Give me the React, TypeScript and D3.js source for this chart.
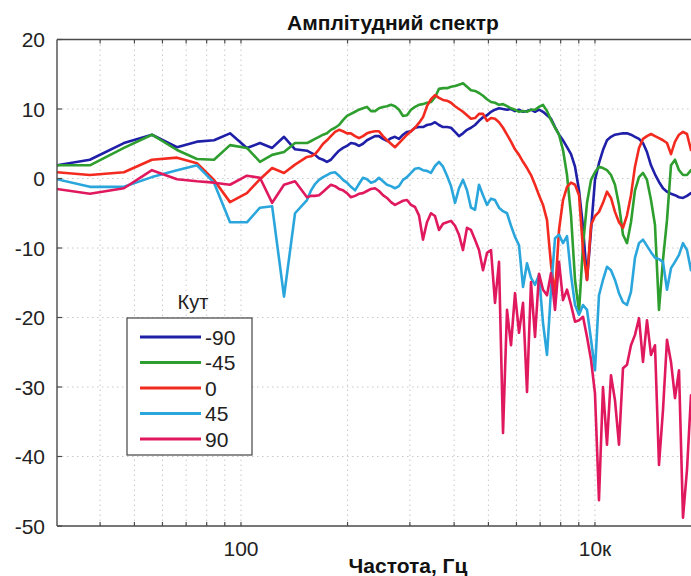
import React from 'react';
import * as d3 from 'd3';

// Frequency sampling points (Hz)
const freqHz = [
  9.1, 14.0, 21.8, 31.4, 43.5, 56.4, 70.4, 86.7, 108, 128, 150, 175, 202,
  236, 249, 262, 276, 291, 306, 322, 340, 358, 377,
  397, 418, 441, 464, 489, 515, 543, 572, 602, 634,
  668, 704, 741, 781, 823, 867, 913, 962, 1013, 1067,
  1124, 1184, 1248, 1314, 1385, 1459, 1537, 1619, 1705, 1796,
  1892, 1993, 2100, 2212, 2330, 2455, 2586, 2724, 2869, 3023,
  3184, 3354, 3533, 3722, 3921, 4131, 4351, 4584, 4829, 5087,
  5358, 5645, 5946, 6264, 6598, 6951, 7322, 7714, 8126, 8560,
  9017, 9499, 10000, 10534, 11097, 11690, 12315, 12972, 13666, 14396,
  15165, 15975, 16829, 17728, 18675, 19673, 20724, 21831, 22997, 24226,
  25520, 26884, 28320, 29833, 31427, 33106, 34875,
];

const angleM90 = [
  1.9, 2.7, 5.1, 6.3, 4.5, 5.3, 5.5, 6.5, 4.4, 5.1, 4.4, 6.0, 4.2,
  4.0, 3.7, 3.4, 2.9, 2.7, 2.4, 2.7, 3.4, 4.0, 4.4,
  4.7, 5.1, 5.0, 4.7, 5.0, 5.5, 5.8, 6.1, 6.1, 5.7,
  5.4, 5.8, 6.0, 5.7, 6.3, 6.7, 6.8, 7.3, 7.4, 7.4,
  7.7, 7.8, 8.1, 7.7, 7.4, 7.4, 7.3, 6.7, 6.1, 6.5,
  7.0, 7.3, 7.7, 8.3, 8.8, 9.1, 9.6, 9.9, 10.1, 10.0,
  9.9, 10.0, 9.7, 9.9, 9.6, 9.7, 9.9, 9.6, 9.9, 9.6,
  9.1, 8.6, 7.4, 6.3, 5.5, 4.5, 3.5, 1.7, -1.7, -7.0,
  -14.6, -7.4, -0.2, 2.2, 4.1, 5.5, 6.0, 6.3, 6.4, 6.5,
  6.5, 6.3, 6.0, 5.7, 5.1, 3.8, 1.9, 0.6, -0.5, -1.4,
  -1.9, -2.2, -2.4, -2.7, -2.8, -2.5, -2.1,
];

const angleM45 = [
  1.9, 1.9, 4.4, 6.3, 4.1, 2.8, 2.7, 4.8, 4.4, 2.4, 3.4, 3.8, 5.1,
  5.1, 5.4, 5.7, 6.0, 6.3, 6.5, 7.0, 7.3, 7.7, 8.4,
  9.0, 9.3, 9.6, 9.9, 10.1, 10.3, 9.7, 9.7, 10.1, 10.3,
  10.4, 10.6, 10.4, 9.9, 9.0, 9.1, 9.9, 10.3, 10.6, 10.7,
  10.9, 11.0, 11.7, 12.9, 13.0, 13.0, 13.2, 13.3, 13.5, 13.7,
  13.2, 12.7, 12.6, 12.3, 11.9, 11.4, 11.0, 10.9, 10.6, 10.7,
  10.4, 10.1, 9.9, 9.6, 9.7, 9.6, 9.9, 9.9, 10.3, 10.6,
  9.7, 8.4, 7.3, 6.3, 4.1, 0.5, -5.3, -14.6, -19.2, -9.6,
  -3.5, -0.2, 0.9, 1.7, 1.5, 1.2, 0.5, -0.9, -3.8, -8.1,
  -9.3, -6.3, -1.7, 0.2, 0.8, -0.2, -3.1, -6.7, -18.9, -11.7,
  -6.0, 1.9, 2.7, 1.2, 0.5, 0.5, 1.2,
];

const angle0 = [
  0.9, 0.5, 0.9, 2.7, 3.0, 2.2, -0.2, -3.4, -2.1, -0.1, 1.5, 0.8, 2.0,
  3.1, 3.2, 3.5, 4.2, 5.0, 5.5, 6.1, 6.7, 7.0, 6.8,
  6.5, 6.5, 6.1, 5.8, 6.1, 6.5, 6.7, 6.8, 6.8, 6.1,
  5.5, 5.0, 4.5, 5.1, 5.7, 6.3, 6.8, 7.3, 8.0, 8.8,
  10.4, 11.4, 12.0, 11.6, 11.3, 11.2, 10.9, 10.4, 10.0, 9.6,
  9.1, 8.6, 8.7, 9.3, 9.3, 8.3, 8.7, 8.6, 8.1, 7.3,
  6.3, 5.3, 4.2, 3.4, 2.4, 1.5, 0.5, -0.9, -2.4, -3.8,
  -6.0, -12.4, -16.7, -7.4, -3.1, -1.2, -0.6, -0.9, -2.4, -10.3,
  -14.6, -6.7, -5.4, -4.8, -3.5, -1.9, -2.8, -4.8, -6.3, -7.1,
  -5.3, -2.4, 1.7, 4.4, 5.7, 6.1, 6.4, 6.1, 5.8, 5.5,
  5.1, 3.5, 5.3, 6.3, 6.7, 6.4, 4.1,
];

const angle45 = [
  -0.1, -1.2, -1.2, 0.2, 1.2, 1.9, -0.6, -6.3, -6.3, -4.2, -4.0, -17.0, -5.0,
  -3.1, -1.7, -0.8, -0.2, 0.2, 0.5, 0.8, 0.9, 0.4, -0.2,
  -0.6, -1.2, -1.7, -0.8, 0.1, -0.1, -0.6, -0.4, 0.1, -0.4,
  -0.9, -1.1, -1.4, -1.1, -0.2, 0.2, 0.8, 1.4, 1.5, 1.2,
  1.1, 0.8, 1.8, 2.4, 1.7, 0.4, -1.1, -3.5, -1.4, -0.2,
  -1.7, -4.2, -4.5, -0.9, -2.4, -3.8, -2.9, -3.1, -4.2, -4.7,
  -5.0, -6.8, -8.4, -9.6, -15.6, -12.2, -14.3, -15.3, -13.9, -20.8,
  -25.4, -16.0, -8.6, -8.1, -9.3, -8.3, -13.9, -18.2, -19.6, -18.2,
  -18.9, -23.2, -27.6, -16.8, -14.6, -12.7, -13.2, -14.6, -16.5, -17.8,
  -18.2, -16.3, -11.4, -9.3, -8.8, -9.7, -10.6, -11.4, -11.6, -12.0,
  -16.0, -12.9, -12.0, -11.0, -9.3, -10.3, -13.2,
];

const angle90 = [
  -1.5, -2.2, -1.4, 1.2, -0.1, -0.4, -0.6, -0.9, 0.4, 0.1, -3.5, -0.9, -0.4,
  -2.7, -2.5, -2.5, -2.4, -1.9, -1.4, -0.9, -1.1, -1.5, -1.7,
  -2.1, -2.7, -2.5, -2.2, -2.1, -1.8, -1.5, -1.4, -1.8, -2.4,
  -2.8, -3.4, -3.8, -3.5, -3.2, -3.1, -3.8, -4.1, -5.3, -8.8,
  -6.3, -5.0, -5.4, -7.4, -6.5, -6.3, -6.1, -6.8, -8.1, -10.3,
  -7.1, -7.4, -8.8, -10.3, -13.2, -10.7, -10.3, -17.9, -12.0, -36.6,
  -18.9, -24.0, -16.5, -22.2, -17.9, -30.7, -14.9, -22.8, -13.7, -16.0,
  -16.8, -13.6, -18.9, -12.0, -17.5, -16.0, -18.2, -20.6, -20.4, -19.9,
  -22.8, -26.1, -30.9, -46.3, -30.0, -38.3, -28.3, -31.9, -38.3, -27.3,
  -26.8, -24.0, -22.5, -20.1, -26.4, -20.4, -25.4, -24.0, -41.2, -33.3,
  -23.2, -26.4, -31.6, -27.6, -48.8, -41.9, -31.2,
];

const seriesNames = ['-90', '-45', '0', '45', '90'];
const seriesColors = ['#1f1fa8', '#2e9e2e', '#f22a1f', '#2aa6dc', '#e0195e'];
const seriesValues = [angleM90, angleM45, angle0, angle45, angle90];

const xGridTicks = [16, 25, 36, 49, 64, 81, 100, 400, 900, 1600, 2500, 3600, 4900, 6400, 8100, 10000];
const xTickLabels: [number, string][] = [[100, '100'], [10000, '10к']];
const yTicks = [20, 10, 0, -10, -20, -30, -40, -50];

const W = 691;
const H = 576;
const PL = 57;
const PR = 691;
const PT = 39.5;
const PB = 526;
const FONT = "'Liberation Sans', Arial, sans-serif";

export default function App() {
  const x = d3.scaleLog().domain([9.13, 34875]).range([PL, PR]);
  const y = d3.scaleLinear().domain([-50, 20]).range([PB, PT]);
  const line = d3
    .line<number>()
    .x((_, i) => x(freqHz[i]))
    .y((d) => y(d));

  const axisColor = '#4a4a4a';
  const gridColor = '#c8c8c8';

  return (
    <svg
      width={W}
      height={H}
      style={{ position: 'absolute', left: 0, top: 0, background: '#fff' }}
      fontFamily={FONT}
    >
      <defs>
        <clipPath id="plotClip">
          <rect x={PL} y={PT} width={PR - PL + 10} height={PB - PT} />
        </clipPath>
      </defs>

      {/* grid */}
      {xGridTicks.map((t) => (
        <line
          key={'gx' + t}
          x1={x(t)}
          x2={x(t)}
          y1={PT}
          y2={PB}
          stroke={gridColor}
          strokeWidth={1}
          strokeDasharray="1.5,3.5"
        />
      ))}
      {yTicks
        .filter((t) => t !== 20 && t !== -50)
        .map((t) => (
          <line
            key={'gy' + t}
            x1={PL}
            x2={PR}
            y1={y(t)}
            y2={y(t)}
            stroke={gridColor}
            strokeWidth={1}
            strokeDasharray="1.5,3.5"
          />
        ))}

      {/* series */}
      <g clipPath="url(#plotClip)">
        {seriesValues.map((vals, si) => (
          <path
            key={seriesNames[si]}
            d={line(vals) || ''}
            fill="none"
            stroke={seriesColors[si]}
            strokeWidth={2.6}
            strokeLinejoin="round"
            strokeLinecap="round"
          />
        ))}
      </g>

      {/* axes frame */}
      <line x1={PL} x2={PL} y1={PT} y2={PB} stroke={axisColor} strokeWidth={1.4} />
      <line x1={PL} x2={PR} y1={PB} y2={PB} stroke={axisColor} strokeWidth={1.4} />
      <line x1={PL} x2={PR} y1={PT} y2={PT} stroke={axisColor} strokeWidth={1.4} />

      {/* x ticks */}
      {xGridTicks.map((t) => (
        <g key={'xt' + t}>
          <line x1={x(t)} x2={x(t)} y1={PB} y2={PB - 4} stroke={axisColor} strokeWidth={1.2} />
          <line x1={x(t)} x2={x(t)} y1={PT} y2={PT + 4} stroke={axisColor} strokeWidth={1.2} />
        </g>
      ))}
      {xTickLabels.map(([v, label]) => (
        <text key={'xl' + v} x={x(v)} y={556} textAnchor="middle" fontSize={21} fill="#222">
          {label}
        </text>
      ))}

      {/* y ticks */}
      {yTicks.map((t) => (
        <g key={'yt' + t}>
          <line x1={PL} x2={PL + 5} y1={y(t)} y2={y(t)} stroke={axisColor} strokeWidth={1.2} />
          <text x={45} y={y(t)} dy="0.36em" textAnchor="end" fontSize={21} fill="#222">
            {t}
          </text>
        </g>
      ))}

      {/* title & axis label */}
      <text x={393} y={30} textAnchor="middle" fontSize={21} fontWeight="bold" fill="#111">
        Амплітудний спектр
      </text>
      <text x={408} y={573} textAnchor="middle" fontSize={21} fontWeight="bold" fill="#111">
        Частота, Гц
      </text>

      {/* legend */}
      <text x={193} y={309} textAnchor="middle" fontSize={20} fill="#222">
        Кут
      </text>
      <rect x={127} y={318} width={125} height={137} fill="#fff" stroke="#444" strokeWidth={1.2} />
      {seriesNames.map((name, i) => {
        const ly = 337 + i * 25.5;
        return (
          <g key={'lg' + name}>
            <line x1={140} x2={201} y1={ly} y2={ly} stroke={seriesColors[i]} strokeWidth={3} />
            <text x={205} y={ly} dy="0.36em" fontSize={21} fill="#222">
              {name}
            </text>
          </g>
        );
      })}
    </svg>
  );
}
